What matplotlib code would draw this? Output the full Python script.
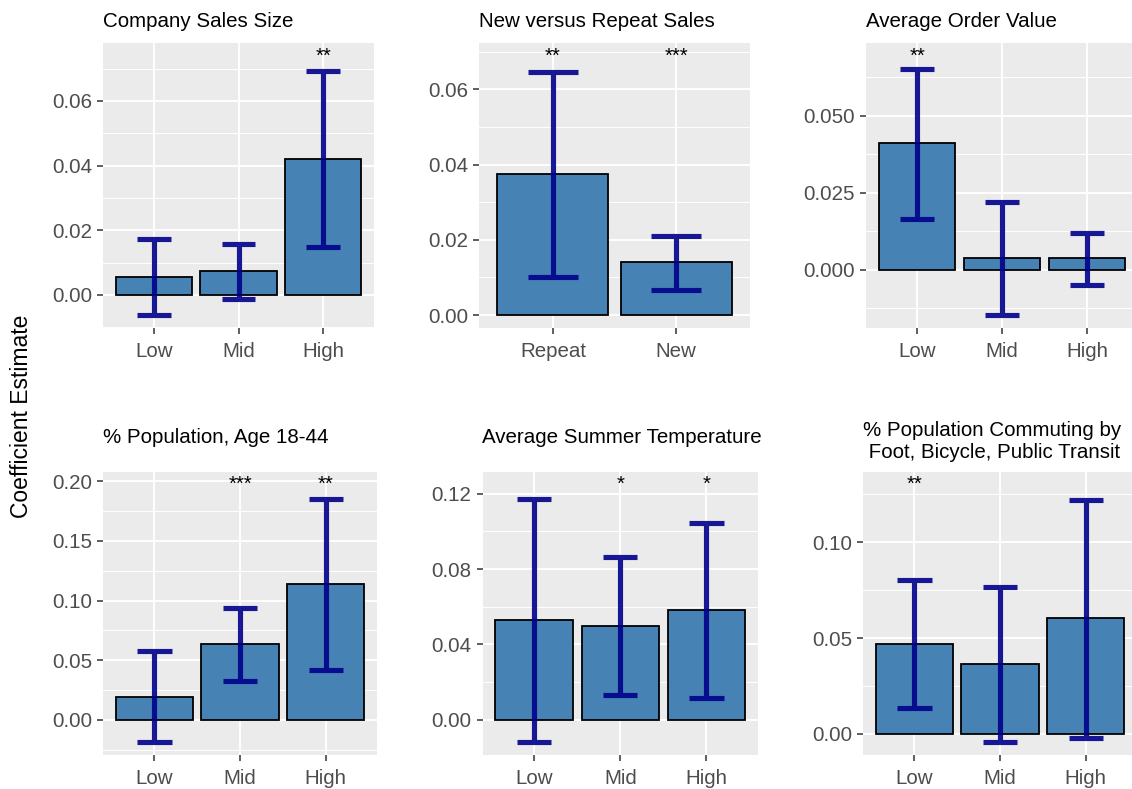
import numpy as np
import matplotlib
matplotlib.use("Agg")
import matplotlib.pyplot as plt
from matplotlib.ticker import MultipleLocator, FormatStrFormatter

plt.rcParams['font.family'] = ['Liberation Sans', 'DejaVu Sans']

# ---- data ----
titles = ["Company Sales Size", "New versus Repeat Sales", "Average Order Value",
          "% Population, Age 18-44", "Average Summer Temperature",
          "% Population Commuting by\n Foot, Bicycle, Public Transit"]

level_cats = ["Low", "Mid", "High"]
repeat_cats = ["Repeat", "New"]

sales_est = [0.0056, 0.0075, 0.0420]
sales_lo = [-0.0062, -0.0011, 0.0148]
sales_hi = [0.0172, 0.0159, 0.0694]
sales_sig = ["", "", "**"]

repeat_est = [0.0375, 0.0141]
repeat_lo = [0.0100, 0.0066]
repeat_hi = [0.0647, 0.0210]
repeat_sig = ["**", "***"]

aov_est = [0.0410, 0.0038, 0.0038]
aov_lo = [0.0164, -0.0148, -0.0050]
aov_hi = [0.0652, 0.0220, 0.0118]
aov_sig = ["**", "", ""]

age_est = [0.0194, 0.0636, 0.1136]
age_lo = [-0.0187, 0.0323, 0.0420]
age_hi = [0.0573, 0.0941, 0.1854]
age_sig = ["", "***", "**"]

temp_est = [0.0531, 0.0500, 0.0585]
temp_lo = [-0.0118, 0.0132, 0.0115]
temp_hi = [0.1173, 0.0863, 0.1045]
temp_sig = ["", "*", "*"]

commute_est = [0.0471, 0.0365, 0.0605]
commute_lo = [0.0137, -0.0043, -0.0019]
commute_hi = [0.0802, 0.0766, 0.1222]
commute_sig = ["**", "", ""]

tick_steps = [0.02, 0.02, 0.025, 0.05, 0.04, 0.05]
tick_decimals = [2, 2, 3, 2, 2, 2]

panels = [
    (level_cats, sales_est, sales_lo, sales_hi, sales_sig),
    (repeat_cats, repeat_est, repeat_lo, repeat_hi, repeat_sig),
    (level_cats, aov_est, aov_lo, aov_hi, aov_sig),
    (level_cats, age_est, age_lo, age_hi, age_sig),
    (level_cats, temp_est, temp_lo, temp_hi, temp_sig),
    (level_cats, commute_est, commute_lo, commute_hi, commute_sig),
]

# ---- layout (pixels: left, top, right, bottom) ----
W, H = 1132, 789
rects = [(103, 43, 374, 328), (479, 43, 750, 328), (866, 43, 1138, 328),
         (103, 471.5, 377, 755), (482.5, 471.5, 758, 755), (863, 471.5, 1137, 755)]
title_pads = [11.5, 11.5, 11.5, 20.5, 20.5, 9.5]

fig = plt.figure(figsize=(W / 100, H / 100), dpi=100)

for i, (cats, est, lo, hi, sig) in enumerate(panels):
    l, t, r, b = rects[i]
    ax = fig.add_axes([l / W, 1 - b / H, (r - l) / W, (b - t) / H])
    ax.set_facecolor("#EBEBEB")
    for s in ax.spines.values():
        s.set_visible(False)

    x = np.arange(1, len(cats) + 1)
    ax.bar(x, est, width=0.9, color="steelblue", edgecolor="black", linewidth=1.3, zorder=3)

    # error bars as a single path so alpha is applied once
    ex, ey = [], []
    for xi, l_, h_ in zip(x, lo, hi):
        ex += [xi - 0.2, xi + 0.2, np.nan, xi, xi, np.nan, xi - 0.2, xi + 0.2, np.nan]
        ey += [h_, h_, np.nan, h_, l_, np.nan, l_, l_, np.nan]
    ax.plot(ex, ey, color="darkblue", alpha=0.9, linewidth=3.7,
            solid_capstyle="butt", zorder=4)

    star_y = max(hi) * 1.065
    for xi, s in zip(x, sig):
        if s:
            ax.text(xi, star_y, s, ha="center", va="center", fontsize=14.5, color="black", zorder=5)

    ymin = min(0, min(lo))
    rng = star_y - ymin
    ax.set_ylim(ymin - 0.05 * rng, star_y + 0.05 * rng)
    ax.set_xlim(0.4, len(cats) + 0.6)

    ax.set_xticks(x)
    ax.set_xticklabels(cats)
    ax.yaxis.set_major_locator(MultipleLocator(tick_steps[i]))
    ax.yaxis.set_minor_locator(MultipleLocator(tick_steps[i] / 2))
    ax.yaxis.set_major_formatter(FormatStrFormatter("%%.%df" % tick_decimals[i]))

    ax.grid(True, which="major", color="white", linewidth=1.4, zorder=0)
    ax.grid(True, which="minor", axis="y", color="white", linewidth=0.7, zorder=0)
    ax.set_axisbelow(True)
    ax.tick_params(which="major", length=4, width=1.1, color="#333333",
                   labelcolor="#4D4D4D", labelsize=14.8, pad=4)
    ax.tick_params(axis="x", which="major", pad=6)
    ax.tick_params(which="minor", length=0)

    ax.set_title(titles[i], loc="left", fontsize=14.8, pad=title_pads[i],
                 color="black", multialignment="left")

fig.text(22 / W, 1 - 416 / H, "Coefficient Estimate", rotation=90,
         ha="center", va="center", fontsize=16.5, color="black")

fig.savefig("out.png", dpi=100)
